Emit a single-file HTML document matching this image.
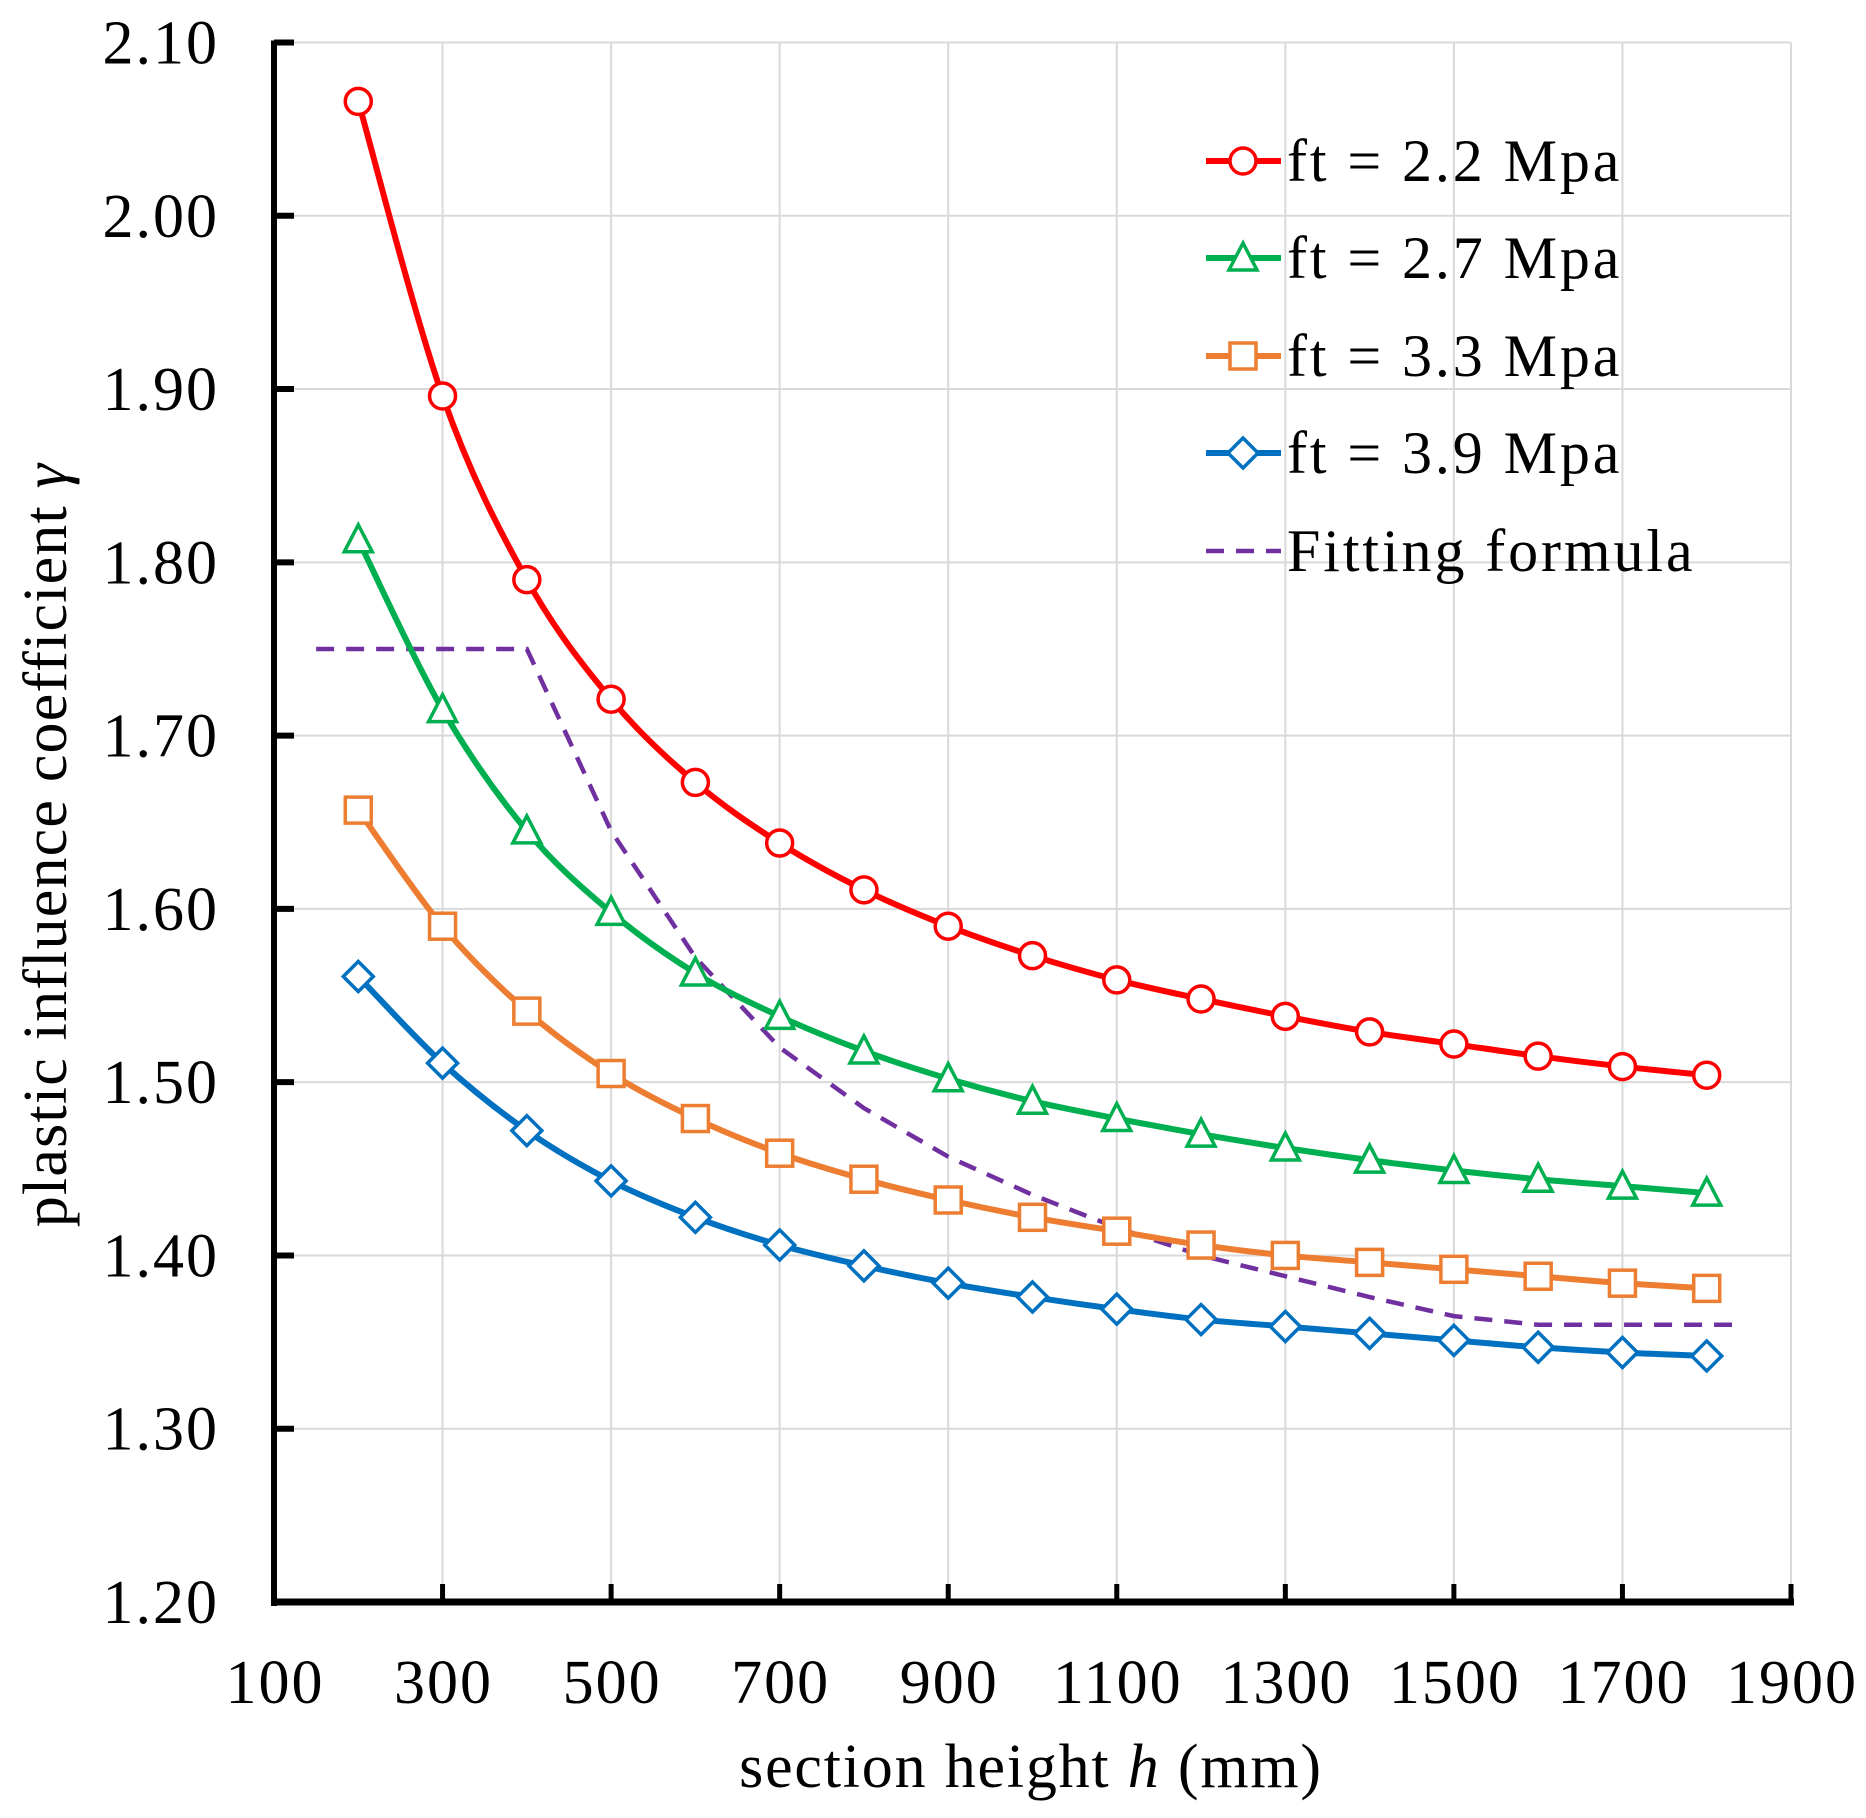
<!DOCTYPE html>
<html><head><meta charset="utf-8"><style>
html,body{margin:0;padding:0;background:#fff;}
svg{display:block;font-family:"Liberation Serif",serif;}
</style></head><body>
<svg id="chart" width="1866" height="1818" viewBox="0 0 1866 1818"></svg>
<script>
const xs = [200,300,400,500,600,700,800,900,1000,1100,1200,1300,1400,1500,1600,1700,1800];
const red = [2.066,1.896,1.790,1.721,1.673,1.638,1.611,1.590,1.573,1.559,1.548,1.538,1.529,1.522,1.515,1.509,1.504];
const green = [1.813,1.715,1.645,1.598,1.563,1.538,1.518,1.502,1.489,1.479,1.470,1.462,1.455,1.449,1.444,1.440,1.436];
const orange = [1.657,1.590,1.541,1.505,1.479,1.459,1.444,1.432,1.422,1.414,1.406,1.400,1.396,1.392,1.388,1.384,1.381];
const blue = [1.561,1.511,1.472,1.443,1.422,1.406,1.394,1.384,1.376,1.369,1.363,1.359,1.355,1.351,1.347,1.344,1.342];
const fitX = [150,400,500,600,700,800,900,1000,1100,1200,1300,1400,1500,1600,1830];
const fitY = [1.75,1.75,1.645,1.572,1.52,1.485,1.457,1.435,1.416,1.400,1.388,1.376,1.365,1.36,1.36];
const xTicks = [100,300,500,700,900,1100,1300,1500,1700,1900];
const yTicks = [1.20,1.30,1.40,1.50,1.60,1.70,1.80,1.90,2.00,2.10];
const legendLabels = ["ft = 2.2 Mpa","ft = 2.7 Mpa","ft = 3.3 Mpa","ft = 3.9 Mpa","Fitting formula"];

const NS="http://www.w3.org/2000/svg";
const svg=document.getElementById('chart');
const X0=274,X1=1791,Y0=1602,Y1=42.5;
const sx=v=>X0+(v-100)/1800*(X1-X0);
const sy=v=>Y0-(v-1.2)/0.9*(Y0-Y1);
function mk(tag,attrs,parent){const e=document.createElementNS(NS,tag);for(const k in attrs)e.setAttribute(k,attrs[k]);(parent||svg).appendChild(e);return e;}

const grid=mk('g',{});


xTicks.forEach(t=>{if(t>100)mk('line',{x1:sx(t),x2:sx(t),y1:Y1,y2:Y0,stroke:'#d9d9d9','stroke-width':2},grid);});
yTicks.forEach(t=>{if(t>1.2)mk('line',{x1:X0,x2:X1,y1:sy(t),y2:sy(t),stroke:'#d9d9d9','stroke-width':2},grid);});

const yAxis=mk('line',{x1:X0,x2:X0,y1:Y1-2,y2:Y0+4,stroke:'#000','stroke-width':6});


const xAxis=mk('line',{x1:X0-3,x2:X1+3,y1:Y0,y2:Y0,stroke:'#000','stroke-width':7});


yTicks.forEach(t=>{
  mk('line',{x1:X0,x2:X0+20,y1:sy(t),y2:sy(t),stroke:'#000','stroke-width':6});
  const tx=mk('text',{x:219,y:sy(t)+21,'text-anchor':'end','font-size':62,'letter-spacing':2});
  tx.textContent=t.toFixed(2);
  
  
});
xTicks.forEach(t=>{
  if(t>100)mk('line',{x1:sx(t),x2:sx(t),y1:Y0,y2:Y0-18,stroke:'#000','stroke-width':5});
  const tx=mk('text',{x:sx(t)+1,y:1703,'text-anchor':'middle','font-size':62,'letter-spacing':2});
  tx.textContent=t;
  
  
});
const xt=mk('text',{x:1031,y:1787,'text-anchor':'middle','font-size':62,'letter-spacing':1.8});
xt.innerHTML='section height <tspan font-style="italic">h</tspan> (mm)';


const yt=mk('text',{x:0,y:0,'text-anchor':'middle','font-size':62,'letter-spacing':1.2,transform:'translate(66,845) rotate(-90)'});
yt.innerHTML='plastic influence coefficient <tspan font-style="italic">γ</tspan>';



function smooth(pts){
  let d=`M${pts[0][0]},${pts[0][1]}`;
  for(let i=0;i<pts.length-1;i++){
    const p0=pts[Math.max(0,i-1)],p1=pts[i],p2=pts[i+1],p3=pts[Math.min(pts.length-1,i+2)];
    const c1=[p1[0]+(p2[0]-p0[0])/6,p1[1]+(p2[1]-p0[1])/6];
    const c2=[p2[0]-(p3[0]-p1[0])/6,p2[1]-(p3[1]-p1[1])/6];
    d+=` C${c1[0]},${c1[1]} ${c2[0]},${c2[1]} ${p2[0]},${p2[1]}`;
  }
  return d;
}
function marker(type,x,y,color,g){
  const r=13;
  if(type==='circle')return mk('circle',{cx:x,cy:y,r:r,fill:'#fff',stroke:color,'stroke-width':3.5},g);
  if(type==='square')return mk('rect',{x:x-r,y:y-r,width:2*r,height:2*r,fill:'#fff',stroke:color,'stroke-width':3.5},g);
  if(type==='triangle')return mk('polygon',{points:`${x},${y-r-2} ${x+r+1},${y+r-1} ${x-r-1},${y+r-1}`,fill:'#fff',stroke:color,'stroke-width':3.5},g);
  return mk('polygon',{points:`${x},${y-r-2} ${x+r+2},${y} ${x},${y+r+2} ${x-r-2},${y}`,fill:'#fff',stroke:color,'stroke-width':3.5},g);
}
const fg=mk('g',{});


mk('polyline',{points:fitX.map((x,i)=>sx(x)+','+sy(fitY[i])).join(' '),fill:'none',stroke:'#7030a0','stroke-width':4.5,'stroke-dasharray':'18,12'},fg);

const series=[[red,'#ff0000','circle','ft-2-2'],[green,'#00b050','triangle','ft-2-7'],[orange,'#ed7d31','square','ft-3-3'],[blue,'#0070c0','diamond','ft-3-9']];
series.slice().reverse().forEach(([vals,col,type,nm])=>{
  const g=mk('g',{});
  
  
  const pts=xs.map((x,i)=>[sx(x),sy(vals[i])]);
  mk('path',{d:smooth(pts),fill:'none',stroke:col,'stroke-width':6},g);
  pts.forEach(p=>{const m=marker(type,p[0],p[1],col,g);
    
    });
});

const lg=mk('g',{});


const ly=[161,258,356,453,551];
legendLabels.forEach((lab,i)=>{
  const e=mk('g',{},lg);
  
  
  if(i<4){
    mk('line',{x1:1206,x2:1281,y1:ly[i],y2:ly[i],stroke:series[i][1],'stroke-width':6},e);
    marker(series[i][2],1243,ly[i],series[i][1],e);
  } else {
    mk('line',{x1:1206,x2:1281,y1:ly[i],y2:ly[i],stroke:'#7030a0','stroke-width':4.5,'stroke-dasharray':'18,12'},e);
  }
  const t=mk('text',{x:1287,y:ly[i]+20,'font-size':60,'letter-spacing':2.9},e);
  t.textContent=lab;
});
</script>
</body></html>
